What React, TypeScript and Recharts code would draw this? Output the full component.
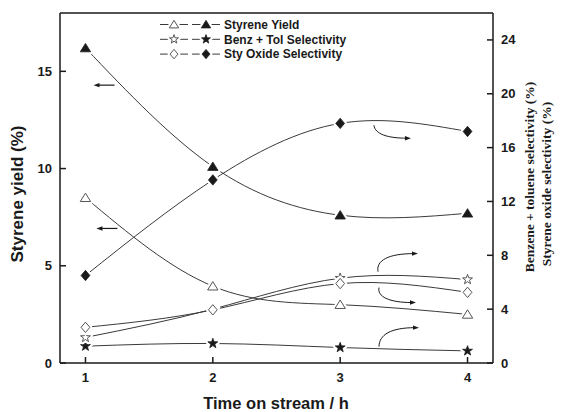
import { LineChart, Line, XAxis, YAxis, ReferenceLine, ReferenceDot } from 'recharts';

// Time on stream (h)
const times = [1, 2, 3, 4];

// Styrene yield (%) — left axis
const styreneYieldFilled = [16.2, 10.1, 7.6, 7.7];
const styreneYieldOpen = [8.5, 3.95, 3.0, 2.5];

// Benzene + toluene selectivity (%) — right axis
const benzTolFilled = [1.25, 1.45, 1.15, 0.9];
const benzTolOpen = [1.9, 4.0, 6.3, 6.2];

// Styrene oxide selectivity (%) — right axis
const styOxideFilled = [6.5, 13.6, 17.8, 17.2];
const styOxideOpen = [2.65, 3.95, 5.9, 5.25];

const xTicks = [1, 2, 3, 4];
const leftTicks = [0, 5, 10, 15];
const rightTicks = [0, 4, 8, 12, 16, 20, 24];

const legendRows = [
  { marker: 'triangle', label: 'Styrene Yield' },
  { marker: 'star', label: 'Benz + Tol Selectivity' },
  { marker: 'diamond', label: 'Sty Oxide Selectivity' },
];

const data = times.map((t, i) => ({
  t,
  syF: styreneYieldFilled[i],
  syO: styreneYieldOpen[i],
  btF: benzTolFilled[i],
  btO: benzTolOpen[i],
  soF: styOxideFilled[i],
  soO: styOxideOpen[i],
}));

const INK = '#1a1a1a';
const LINE = '#3a3a3a';
const SANS = '"Liberation Sans", Arial, sans-serif';
const SERIF = '"Liberation Serif", "Times New Roman", serif';

type Kind = 'triangle' | 'star' | 'diamond';

function markerPath(kind: Kind, cx: number, cy: number, s: number) {
  if (kind === 'triangle') {
    const w = 5.2 * s;
    return `M${cx},${cy - 4.6 * s} L${cx + w},${cy + 3.8 * s} L${cx - w},${cy + 3.8 * s} Z`;
  }
  if (kind === 'diamond') {
    return `M${cx},${cy - 5.2 * s} L${cx + 4.4 * s},${cy} L${cx},${cy + 5.2 * s} L${cx - 4.4 * s},${cy} Z`;
  }
  const pts: string[] = [];
  for (let k = 0; k < 10; k++) {
    const r = (k % 2 === 0 ? 5.2 : 2.1) * s;
    const a = -Math.PI / 2 + (k * Math.PI) / 5;
    pts.push(`${(cx + r * Math.cos(a)).toFixed(2)},${(cy + r * Math.sin(a)).toFixed(2)}`);
  }
  return `M${pts.join(' L')} Z`;
}

function Marker({ kind, filled, cx, cy, s = 1, halo = true }: { kind: Kind; filled: boolean; cx: number; cy: number; s?: number; halo?: boolean }) {
  const d = markerPath(kind, cx, cy, s);
  return (
    <g>
      {halo && <path d={d} fill="#fff" stroke="#fff" strokeWidth={5} strokeLinejoin="round" />}
      <path d={d} fill={filled ? INK : '#fff'} stroke={filled ? INK : '#555'} strokeWidth={filled ? 0.8 : 1} strokeLinejoin="miter" />
    </g>
  );
}

const dotOf = (kind: Kind, filled: boolean) => (props: any) => {
  const { cx, cy, index } = props;
  if (cx == null || cy == null) return <g key={`d-${index}`} />;
  return (
    <g key={`${kind}-${filled}-${index}`}>
      <Marker kind={kind} filled={filled} cx={cx} cy={cy} />
    </g>
  );
};

function XTick({ x, y, payload }: any) {
  return (
    <g>
      <line x1={x} x2={x} y1={y} y2={y - 6} stroke={INK} strokeWidth={1.5} />
      <text x={x} y={y + 19} textAnchor="middle" fontFamily={SANS} fontWeight="bold" fontSize={13} fill={INK}>
        {payload.value}
      </text>
    </g>
  );
}

function LeftTick({ x, y, payload }: any) {
  return (
    <g>
      <line x1={x} x2={x + 6} y1={y} y2={y} stroke={INK} strokeWidth={1.5} />
      <text x={x - 8} y={y + 4.5} textAnchor="end" fontFamily={SANS} fontWeight="bold" fontSize={13} fill={INK}>
        {payload.value}
      </text>
    </g>
  );
}

function RightTick({ x, y, payload }: any) {
  return (
    <g>
      <line x1={x - 6} x2={x} y1={y} y2={y} stroke={INK} strokeWidth={1.5} />
      <text x={x + 8} y={y + 4.5} textAnchor="start" fontFamily={SANS} fontWeight="bold" fontSize={13} fill={INK}>
        {payload.value}
      </text>
    </g>
  );
}

// Small filled arrowhead pointing along +x (dir = 1) or -x (dir = -1)
function head(x: number, y: number, dir: number) {
  return `M${x},${y} L${x - dir * 6},${y - 2.2} L${x - dir * 6},${y + 2.2} Z`;
}

// Arrow glyphs anchored at a data point; path given relative to the anchor
const straightLeft = (len: number) => (p: any) => (
  <g>
    <line x1={p.cx + len} y1={p.cy} x2={p.cx + 4} y2={p.cy} stroke={INK} strokeWidth={1.2} />
    <path d={head(p.cx, p.cy, -1)} fill={INK} />
  </g>
);

const curved = (c1: [number, number], c2: [number, number], end: [number, number]) => (p: any) => {
  const { cx, cy } = p;
  const ex = cx + end[0];
  const ey = cy + end[1];
  return (
    <g>
      <path
        d={`M${cx},${cy} C${cx + c1[0]},${cy + c1[1]} ${cx + c2[0]},${cy + c2[1]} ${ex - 4},${ey}`}
        fill="none"
        stroke={INK}
        strokeWidth={1}
      />
      <path d={head(ex, ey, 1)} fill={INK} />
    </g>
  );
};

function LegendIcon({ kind, x, y }: { kind: Kind; x: number; y: number }) {
  return (
    <g>
      <line x1={x} x2={x + 28} y1={y} y2={y} stroke={LINE} strokeWidth={1} />
      <line x1={x + 32} x2={x + 60} y1={y} y2={y} stroke={LINE} strokeWidth={1} />
      <Marker kind={kind} filled={false} cx={x + 14} cy={y} s={0.9} />
      <Marker kind={kind} filled cx={x + 46} cy={y} s={0.9} />
    </g>
  );
}

export default function App() {
  return (
    <div style={{ position: 'absolute', left: 0, top: 0, width: 561, height: 412, background: '#fff' }}>
      <LineChart width={561} height={412} data={data} margin={{ top: 13, right: 0, bottom: 0, left: 0 }}>
        <XAxis
          dataKey="t"
          type="number"
          domain={[0.8, 4.2]}
          ticks={xTicks}
          height={49}
          tickSize={0}
          tickMargin={0}
          tickLine={false}
          axisLine={{ stroke: INK, strokeWidth: 1.5 }}
          tick={<XTick />}
        />
        <YAxis
          yAxisId="left"
          domain={[0, 18]}
          ticks={leftTicks}
          width={60}
          tickSize={0}
          tickMargin={0}
          tickLine={false}
          axisLine={{ stroke: INK, strokeWidth: 1.5 }}
          tick={<LeftTick />}
        />
        <YAxis
          yAxisId="right"
          orientation="right"
          domain={[0, 26]}
          ticks={rightTicks}
          width={68}
          tickSize={0}
          tickMargin={0}
          tickLine={false}
          axisLine={{ stroke: INK, strokeWidth: 1.5 }}
          tick={<RightTick />}
        />
        <ReferenceLine yAxisId="left" y={18} stroke={INK} strokeWidth={1.5} />

        <Line yAxisId="left" dataKey="syF" type="natural" stroke={LINE} strokeWidth={1} dot={dotOf('triangle', true)} activeDot={false} isAnimationActive={false} />
        <Line yAxisId="left" dataKey="syO" type="natural" stroke={LINE} strokeWidth={1} dot={dotOf('triangle', false)} activeDot={false} isAnimationActive={false} />
        <Line yAxisId="right" dataKey="soF" type="natural" stroke={LINE} strokeWidth={1} dot={dotOf('diamond', true)} activeDot={false} isAnimationActive={false} />
        <Line yAxisId="right" dataKey="btF" type="natural" stroke={LINE} strokeWidth={1} dot={dotOf('star', true)} activeDot={false} isAnimationActive={false} />
        <Line yAxisId="right" dataKey="btO" type="natural" stroke={LINE} strokeWidth={1} dot={dotOf('star', false)} activeDot={false} isAnimationActive={false} />
        <Line yAxisId="right" dataKey="soO" type="natural" stroke={LINE} strokeWidth={1} dot={dotOf('diamond', false)} activeDot={false} isAnimationActive={false} />

        {/* arrows pointing each curve to its axis */}
        <ReferenceDot yAxisId="left" x={1.063} y={14.29} shape={straightLeft(21)} />
        <ReferenceDot yAxisId="left" x={1.086} y={6.92} shape={straightLeft(21)} />
        <ReferenceDot yAxisId="left" x={3.265} y={12.23} shape={curved([1, 9], [14, 13], [37, 13])} />
        <ReferenceDot yAxisId="left" x={3.297} y={4.7} shape={curved([-2, -11], [10, -18], [40, -18])} />
        <ReferenceDot yAxisId="left" x={3.305} y={3.88} shape={curved([-2, 9], [10, 15], [37, 15])} />
        <ReferenceDot yAxisId="left" x={3.305} y={0.84} shape={curved([0, -12], [12, -19], [40, -19])} />
      </LineChart>

      <svg width={561} height={412} style={{ position: 'absolute', left: 0, top: 0, pointerEvents: 'none' }}>
        {legendRows.map((row, i) => (
          <g key={row.label}>
            <LegendIcon kind={row.marker as Kind} x={160} y={24.5 + i * 14.8} />
            <text x={224} y={24.5 + i * 14.8 + 4.3} fontFamily={SANS} fontWeight="bold" fontSize={12} fill={INK}>
              {row.label}
            </text>
          </g>
        ))}
        <text transform="translate(23,194) rotate(-90)" textAnchor="middle" fontFamily={SANS} fontWeight="bold" fontSize={17} fill={INK}>
          Styrene yield (%)
        </text>
        <text transform="translate(534,177) rotate(-90)" textAnchor="middle" fontFamily={SERIF} fontWeight="bold" fontSize={13.5} fill={INK}>
          Benzene + toluene selectivity (%)
        </text>
        <text transform="translate(551,184) rotate(-90)" textAnchor="middle" fontFamily={SERIF} fontWeight="bold" fontSize={13.5} fill={INK}>
          Styrene oxide selectivity (%)
        </text>
        <text x={276} y={409} textAnchor="middle" fontFamily={SANS} fontWeight="bold" fontSize={16.5} fill={INK}>
          Time on stream / h
        </text>
      </svg>
    </div>
  );
}
